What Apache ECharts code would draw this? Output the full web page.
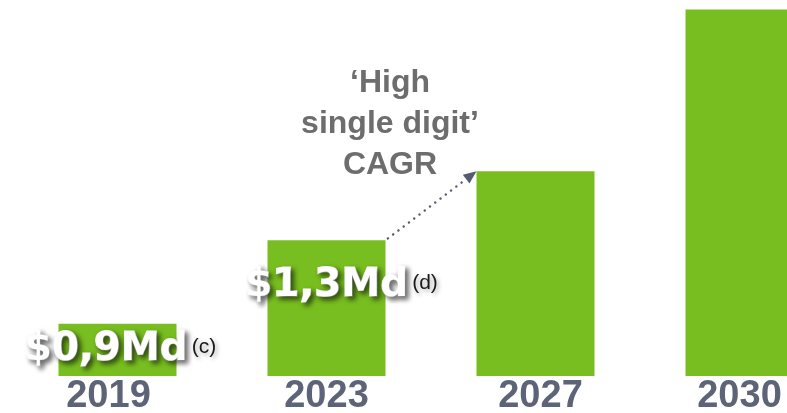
<!DOCTYPE html>
<html><head><meta charset="utf-8">
<script src="https://cdn.jsdelivr.net/npm/echarts@6/dist/echarts.min.js"></script>
<style>html,body{margin:0;padding:0;background:#fff}#c{width:787px;height:413px}</style>
</head><body><div id="c"></div>
<script>
const categories = ['2019', '2023', '2027', '2030'];
const barHeights = [0.50, 1.30, 1.96, 3.51];
const valueLabels = ['$0,9Md', '$1,3Md', '', ''];
const noteMarks = ['(c)', '(d)', '', ''];
const cagrLines = ['‘High', 'single digit’', 'CAGR'];

const BAR_W = 118;
const GREEN = '#78be20';
const labelOffsets = [[3, 0], [15, -22], [0, 0], [0, 0]];
const tickPads = [[0, 18, 0, 0], [0, 0, 0, 0], [0, 0, 0, 10], [0, 10, 0, 0]];

const chart = echarts.init(document.getElementById('c'), null, {renderer: 'canvas'});

const shadow = {
  textShadowColor: 'rgba(0,0,0,0.6)', textShadowBlur: 5,
  textShadowOffsetX: 3, textShadowOffsetY: 3,
  textBorderColor: '#ffffff', textBorderWidth: 1.2
};

const seriesData = barHeights.map((v, i) => ({
  value: v,
  label: valueLabels[i] ? {
    show: true, position: 'inside', offset: labelOffsets[i],
    formatter: '{v|' + valueLabels[i] + '}{s|' + noteMarks[i] + '}',
    rich: {
      v: Object.assign({fontFamily: 'DejaVu Sans', fontWeight: 'bold', fontSize: 39, color: '#ffffff', lineHeight: 46}, shadow),
      s: {fontFamily: 'Liberation Sans', fontSize: 21, color: '#1a1a1a', padding: [0, 0, 6, 4], verticalAlign: 'middle',
          textShadowColor: 'rgba(0,0,0,0.35)', textShadowBlur: 4, textShadowOffsetX: 2, textShadowOffsetY: 2}
    }
  } : {show: false}
}));

const tickRich = {};
categories.forEach((c, i) => {
  tickRich['t' + i] = {fontFamily: 'Liberation Sans', fontWeight: 'bold', fontSize: 38, color: '#5e6478', padding: tickPads[i]};
});

chart.setOption({
  animation: false,
  grid: {left: 13, width: 836, top: 0, bottom: 37, containLabel: false, outerBoundsMode: 'none'},
  xAxis: {
    type: 'category', data: categories,
    axisLine: {show: false}, axisTick: {show: false},
    axisLabel: {
      margin: 2,
      formatter: (v, i) => '{t' + i + '|' + v + '}',
      rich: tickRich
    }
  },
  yAxis: {type: 'value', min: 0, max: 3.6, show: false, splitLine: {show: false}},
  series: [{
    type: 'bar', data: seriesData, barWidth: BAR_W,
    itemStyle: {color: GREEN}
  }]
});

// Arrow between bar tops, derived from axis scales
const xA = chart.convertToPixel({xAxisIndex: 0}, categories[1]) + BAR_W / 2;
const yA = chart.convertToPixel({yAxisIndex: 0}, barHeights[1]);
const xB = chart.convertToPixel({xAxisIndex: 0}, categories[2]) - BAR_W / 2;
const yB = chart.convertToPixel({yAxisIndex: 0}, barHeights[2]);
const dx = xB - xA, dy = yB - yA, len = Math.hypot(dx, dy);
const ux = dx / len, uy = dy / len, nx = -uy, ny = ux;
const headL = 13, headW = 5.5;
const bx = xB - ux * headL, by = yB - uy * headL;
const ARROW = '#565c70';

chart.setOption({
  graphic: [
    {type: 'line', shape: {x1: xA + ux * 3, y1: yA + uy * 3, x2: bx, y2: by},
     style: {stroke: ARROW, lineWidth: 2.4, lineDash: [0.1, 6.5], lineCap: 'round'}},
    {type: 'polygon', shape: {points: [[xB, yB], [bx + nx * headW, by + ny * headW], [bx - nx * headW, by - ny * headW]]},
     style: {fill: ARROW}},
    {type: 'text', x: 390, y: 124,
     style: {text: cagrLines.join('\n'), fontFamily: 'Liberation Sans', fontWeight: 'bold', fontSize: 32,
             lineHeight: 41, fill: '#6d6d6d', align: 'center', verticalAlign: 'middle'}}
  ]
});
</script>
</body></html>
